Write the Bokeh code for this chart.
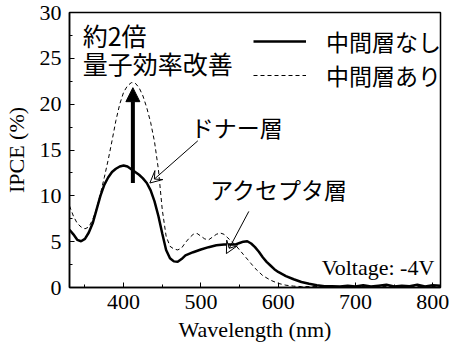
from bokeh.plotting import figure
from bokeh.models import Range1d, Legend, LegendItem, Arrow, NormalHead, VeeHead, Label
from bokeh.embed import file_html
from bokeh.resources import INLINE

# ---- data ----
wl_solid = [330, 335, 340, 345, 350, 355, 360, 365, 370, 375, 380, 385, 390, 395, 400,
            405, 410, 415, 420, 425, 430, 435, 440, 445, 450, 455, 460, 465, 470, 475,
            480, 490, 500, 510, 520, 530, 540, 545, 550, 555, 560, 565, 570, 575, 580,
            585, 590, 595, 600, 610, 620, 630, 640, 650, 660, 670, 680, 690, 700, 710,
            720, 730, 740, 750, 760, 770, 780, 790, 800, 810]
ipce_solid = [6.3, 5.8, 5.2, 5.05, 5.3, 6.0, 7.0, 8.5, 10.0, 11.2, 12.0, 12.6, 12.95, 13.2, 13.3,
              13.2, 12.9, 12.6, 12.3, 11.9, 11.4, 10.6, 9.4, 7.8, 5.9, 4.1, 3.2, 2.85, 2.8, 3.1,
              3.5, 3.85, 4.15, 4.4, 4.6, 4.7, 4.7, 4.7, 4.85, 5.0, 5.05, 4.8, 4.4, 3.9, 3.3,
              2.8, 2.4, 2.0, 1.7, 1.25, 0.9, 0.6, 0.4, 0.25, 0.15, 0.15, 0.1, 0.2, 0.1, 0.25,
              0.1, 0.2, 0.3, 0.1, 0.2, 0.15, 0.3, 0.1, 0.25, 0.2]

wl_dash = [330, 335, 340, 345, 350, 355, 360, 365, 370, 375, 380, 385, 390, 395, 400,
           405, 410, 415, 420, 425, 430, 435, 440, 445, 450, 455, 460, 465, 470, 475,
           480, 485, 490, 495, 500, 505, 510, 515, 520, 525, 530, 535, 540, 545, 550,
           555, 560, 565, 570, 575, 580, 590, 600, 610, 620, 630, 640, 660, 680, 700,
           720, 740, 760, 780, 800, 810]
ipce_dash = [8.9, 7.8, 7.0, 6.6, 6.4, 6.6, 7.4, 8.6, 10.2, 12.0, 13.9, 16.0, 18.2, 20.0, 21.3,
             22.0, 22.35, 22.3, 21.8, 20.9, 19.6, 18.0, 15.9, 12.9, 8.5, 5.6, 4.5, 4.2, 4.1, 4.3,
             4.9, 5.4, 5.8, 5.9, 5.6, 5.3, 5.2, 5.5, 5.8, 5.95, 5.8, 5.4, 5.0, 4.6, 4.1,
             3.6, 3.1, 2.6, 2.1, 1.7, 1.3, 0.8, 0.45, 0.25, 0.15, 0.1, 0.1, 0.1, 0.1, 0.1,
             0.1, 0.1, 0.1, 0.1, 0.1, 0.1]

series_labels = ["中間層なし", "中間層あり"]

# annotation anchors (data units)
gain_arrow = [412, 11.4, 412, 21.8]
donor_arrow = [496, 16.0, 434, 11.4]
acceptor_arrow = [562, 8.3, 533, 3.7]

SERIF = "Liberation Serif"
CJK = "Noto Sans CJK JP"

p = figure(width=449, height=344, output_backend="svg", toolbar_location=None,
           x_range=Range1d(330, 810), y_range=Range1d(0, 30),
           min_border_left=61, min_border_right=9, min_border_top=12, min_border_bottom=54)
p.outline_line_color = "black"
p.outline_line_width = 1.5
p.xgrid.grid_line_color = None
p.ygrid.grid_line_color = None

p.xaxis.ticker.desired_num_ticks = 6
p.yaxis.ticker.desired_num_ticks = 6
p.xaxis.ticker.num_minor_ticks = 2
p.yaxis.ticker.num_minor_ticks = 2

p.xaxis.axis_label = "Wavelength (nm)"
p.yaxis.axis_label = "IPCE (%)"
p.axis.axis_line_color = "black"
p.axis.axis_line_width = 1.5
p.axis.major_tick_in = 5
p.axis.major_tick_out = 0
p.axis.minor_tick_in = 3
p.axis.minor_tick_out = 0
p.axis.major_tick_line_color = "black"
p.axis.minor_tick_line_color = "black"
p.xaxis.major_label_text_font = SERIF
p.yaxis.major_label_text_font = SERIF
p.axis.major_label_text_font_size = "22px"
p.axis.major_label_text_color = "black"
p.xaxis.axis_label_text_font = SERIF
p.yaxis.axis_label_text_font = SERIF
p.axis.axis_label_text_font_size = "22px"
p.axis.axis_label_text_font_style = "normal"
p.axis.axis_label_text_color = "black"
p.xaxis.major_label_standoff = 7
p.yaxis.major_label_standoff = 8
p.xaxis.axis_label_standoff = 5
p.yaxis.axis_label_standoff = 8

r1 = p.line(wl_solid, ipce_solid, line_color="black", line_width=2.5)
r2 = p.line(wl_dash, ipce_dash, line_color="black", line_width=1, line_dash="4 3")

p.add_layout(Label(x=802, y=2.2, text="Voltage: -4V", text_font=SERIF, text_font_size="22px",
                   text_baseline="middle", text_align="right", text_color="black"))

legend = Legend(items=[LegendItem(label=series_labels[0], renderers=[r1]),
                       LegendItem(label=series_labels[1], renderers=[r2])],
                location=(184, 195), glyph_width=53, glyph_height=28, label_height=28,
                label_standoff=20, spacing=0, padding=0, margin=0,
                label_text_font=CJK, label_text_font_size="23px", label_text_color="black",
                border_line_alpha=0, background_fill_alpha=0)
p.add_layout(legend, "center")

p.add_layout(Label(x=347, y=27.5, text="約2倍", text_font=CJK, text_font_size="25px",
                   text_baseline="middle", text_color="black"))
p.add_layout(Label(x=347, y=24.5, text="量子効率改善", text_font=CJK, text_font_size="25px",
                   text_baseline="middle", text_color="black"))
p.add_layout(Label(x=487, y=17.5, text="ドナー層", text_font=CJK, text_font_size="23px",
                   text_baseline="middle", text_color="black"))
p.add_layout(Label(x=512, y=10.8, text="アクセプタ層", text_font=CJK, text_font_size="23px",
                   text_baseline="middle", text_color="black"))

p.add_layout(Arrow(end=NormalHead(size=14, fill_color="black"),
                   x_start=gain_arrow[0], y_start=gain_arrow[1],
                   x_end=gain_arrow[2], y_end=gain_arrow[3],
                   line_width=4))
p.add_layout(Arrow(end=VeeHead(size=12, fill_color="white", line_width=1),
                   x_start=donor_arrow[0], y_start=donor_arrow[1],
                   x_end=donor_arrow[2], y_end=donor_arrow[3],
                   line_width=1))
p.add_layout(Arrow(end=VeeHead(size=12, fill_color="white", line_width=1),
                   x_start=acceptor_arrow[0], y_start=acceptor_arrow[1],
                   x_end=acceptor_arrow[2], y_end=acceptor_arrow[3],
                   line_width=1))

open("out.html", "w").write(file_html(p, INLINE))
